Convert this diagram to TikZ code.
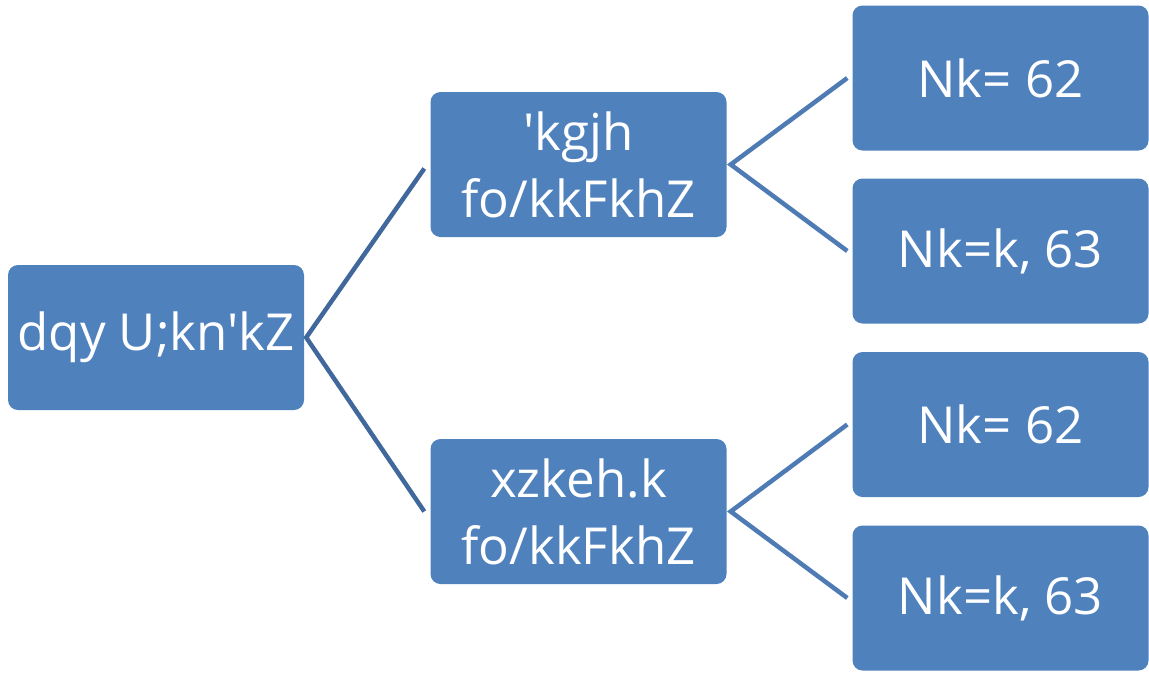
\documentclass[tikz,border=0pt]{standalone}
\usepackage{fontspec}
\setmainfont{Open Sans}[Ligatures=TeXOff]
\usetikzlibrary{calc}
\definecolor{boxfill}{HTML}{4F81BD}
\definecolor{lineA}{HTML}{41689C}
\definecolor{lineB}{HTML}{4F7BB5}
\begin{document}
\begin{tikzpicture}[x=1pt,y=-1pt,
  box/.style={fill=boxfill, draw=none, rounded corners=10pt, minimum width=296pt, minimum height=145pt,
    inner sep=0pt, text=white, align=center, font=\fontsize{51}{67}\selectfont},
  linkA/.style={draw=lineA, line width=4.5pt},
  linkB/.style={draw=lineB, line width=4.5pt}]
\useasboundingbox (0,0) rectangle (1149,673);
\node[box] (root) at (156,337.5) {dqy U;kn'kZ};
\node[box] (m1) at (578.5,164.5) {'kgjh\\fo/kkFkhZ};
\node[box] (m2) at (578.5,511.5) {xzkeh.k\\fo/kkFkhZ};
\node[box] (l1) at (1000.5,78) {Nk= 62};
\node[box] (l2) at (1000.5,251) {Nk=k, 63};
\node[box] (l3) at (1000.5,424.5) {Nk= 62};
\node[box] (l4) at (1000.5,598) {Nk=k, 63};
\draw[linkA] ($(m1.west)+(-6,4)$) -- ($(root.east)+(2,0)$) -- ($(m2.west)+(-6,0)$);
\draw[linkB] ($(l1.west)+(-5,0)$) -- ($(m1.east)+(4,0)$) -- ($(l2.west)+(-5,0)$);
\draw[linkB] ($(l3.west)+(-5,0)$) -- ($(m2.east)+(4,0)$) -- ($(l4.west)+(-5,0)$);
\end{tikzpicture}
\end{document}
